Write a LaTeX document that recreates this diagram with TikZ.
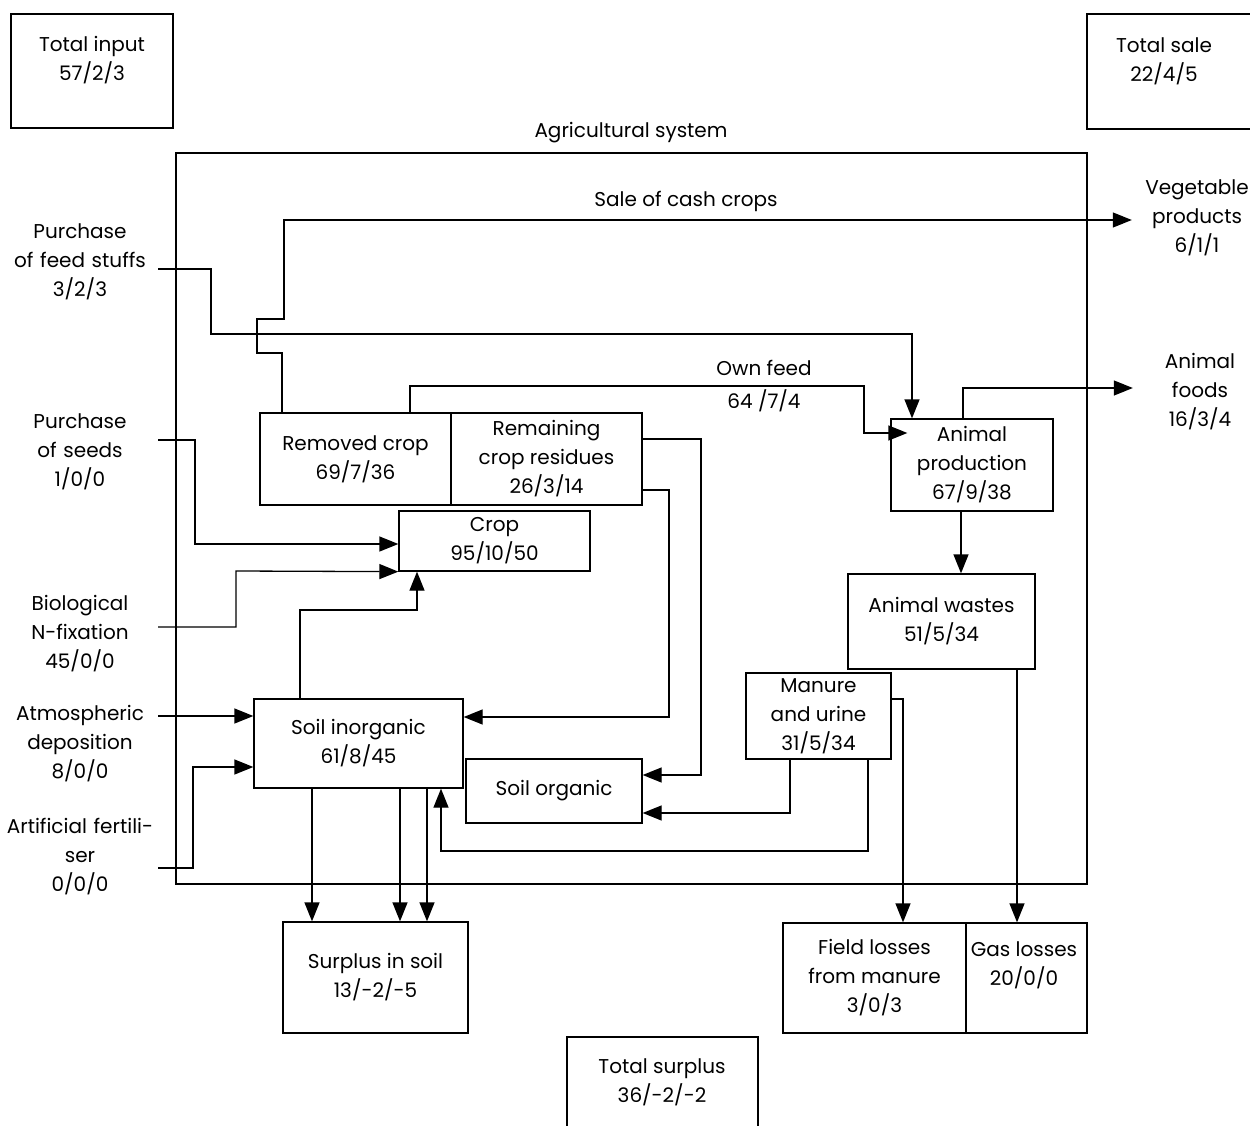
\documentclass[tikz,border=0pt]{standalone}
\usepackage{fontspec}
\setmainfont{Poppins}
\usetikzlibrary{arrows.meta}

\begin{document}
\begin{tikzpicture}[x=1pt, y=-1pt,
    every node/.style={font=\fontsize{20}{29}\selectfont, align=center, inner sep=3pt},
    box/.style={draw, line width=1.3pt, minimum width=#1},
    inlab/.style={text width=150pt},
    outlab/.style={text width=124pt},
    arr/.style={line width=1.3pt, -{Triangle[length=19pt, width=15pt]}}]
  \useasboundingbox (0,0) rectangle (1250,1126);
  % frame and totals
  \node[box=911pt, minimum height=731pt] (agri) at (631.5,518.5) {};
  \node (agri-t) at (631,133) {Agricultural system};
  \node[box=162pt, minimum height=114pt] (totin) at (92,71) {};
  \node (totin-t) at (92,60) {Total input\\57/2/3};
  \node[box=173pt, minimum height=115pt] (totsale) at (1173.5,71.5) {};
  \node (totsale-t) at (1164,61) {Total sale\\22/4/5};
  \node[box=191pt, minimum height=103pt] (totsur) at (662.5,1088.5) {};
  \node (totsur-t) at (662,1082) {Total surplus\\36/-2/-2};
  % compartments
  \node[box=191pt, minimum height=92pt] (removed) at (355.5,459) {Removed crop\\69/7/36};
  \node[box=191pt, minimum height=92pt] (residues) at (546.5,459) {Remaining\\crop residues\\26/3/14};
  \node[box=191pt, minimum height=60pt] (crop) at (494.5,541) {Crop\\95/10/50};
  \node[box=162pt, minimum height=92pt] (ap) at (972,465) {Animal\\production\\67/9/38};
  \node[box=187pt, minimum height=95pt] (wastes) at (941.5,621.5) {Animal wastes\\51/5/34};
  \node[box=145pt, minimum height=86pt] (manure) at (818.5,716) {Manure\\and urine\\31/5/34};
  \node[box=209pt, minimum height=89pt] (soilin) at (358.5,743.5) {Soil inorganic\\61/8/45};
  \node[box=176pt, minimum height=64pt] (soilorg) at (554,791) {Soil organic};
  \node[box=185pt, minimum height=111pt] (surplus) at (375.5,977.5) {Surplus in soil\\13/-2/-5};
  \node[box=183pt, minimum height=110pt] (field) at (874.5,978) {Field losses\\from manure\\3/0/3};
  \node[box=121pt, minimum height=110pt] (gas) at (1026.5,978) {};
  \node (gas-t) at (1024,965) {Gas losses\\20/0/0};
  % inputs and outputs
  \node[inlab] (feed) at (80,262) {Purchase\\of feed stuffs\\3/2/3};
  \node[inlab] (seeds) at (80,452) {Purchase\\of seeds\\1/0/0};
  \node[inlab] (nfix) at (80,634) {Biological\\N-fixation\\45/0/0};
  \node[inlab] (atmos) at (80,744) {Atmospheric\\deposition\\8/0/0};
  \node[inlab] (fert) at (80,857) {Artificial fertili-\\ser\\0/0/0};
  \node[outlab] (veg) at (1197,218) {Vegetable\\products\\6/1/1};
  \node[text width=128pt] (foods) at (1200,392) {Animal\\foods\\16/3/4};
  \node (sale-t) at (686,201) {Sale of cash crops};
  \node (own-t) at (764,386) {Own feed\\[4pt]64 /7/4};
  % flows
  \draw[arr] (removed.north -| 282,0) -- (282,353) -- (257,353) -- (257,319) -- (284,319) |- (veg.west |- 0,220);
  \draw[arr] (feed.east |- 0,269) -| (211,334) -| (ap.north -| 912,0);
  \draw[arr, shorten >=-17pt] (removed.north -| 410,0) |- (864,386) |- (ap.west |- 0,433);
  \draw[arr] (seeds.east |- 0,440) -| (195,544) -- (crop.west |- 0,544);
  \draw[arr] (nfix.east |- 0,627) -| (236,571) -- (crop.south west);
  \draw[arr] (soilin.north -| 300,0) |- (417,610) -- (crop.south -| 417,0);
  \draw[arr] (atmos.east |- 0,716) -- (soilin.west |- 0,716);
  \draw[arr] (fert.east |- 0,868) -| (193,767) -- (soilin.west |- 0,767);
  \draw[arr] (residues.east |- 0,439) -| (701,775) -- (soilorg.east |- 0,775);
  \draw[arr] (residues.east |- 0,490) -| (669,717) -- (soilin.east |- 0,717);
  \draw[arr] (ap.north -| 963,0) |- (foods.west |- 0,388);
  \draw[arr] (ap.south -| 961,0) -- (wastes.north -| 961,0);
  \draw[arr] (wastes.south -| 1017,0) -- (gas.north -| 1017,0);
  \draw[arr] (manure.east |- 0,699) -| (field.north -| 903,0);
  \draw[arr] (manure.south -| 790,0) |- (soilorg.east |- 0,813);
  \draw[arr] (manure.south -| 868,0) |- (441,851) -- (soilin.south -| 441,0);
  \foreach \x in {312,400,427}
    \draw[arr] (soilin.south -| \x,0) -- (surplus.north -| \x,0);
\end{tikzpicture}
\end{document}
